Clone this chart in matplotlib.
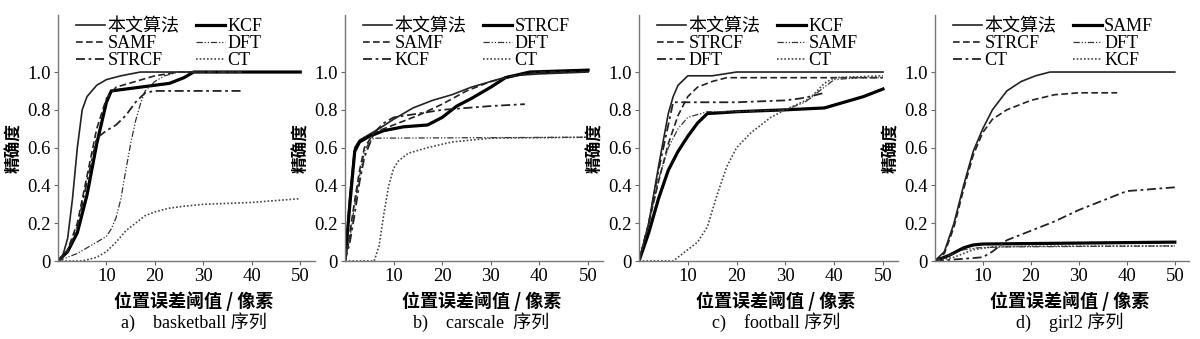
import matplotlib
matplotlib.use("Agg")
import matplotlib.pyplot as plt

plt.rcParams['font.family'] = ['Liberation Serif', 'Noto Sans CJK SC', 'DejaVu Sans']
plt.rcParams['font.size'] = 13

# ---- a) basketball ----
a_labels = ['本文算法', 'KCF', 'SAMF', 'DFT', 'STRCF', 'CT']
a_ours_x = [0, 1, 2, 3, 4, 5, 6, 7, 8, 10, 13, 17, 20, 50]
a_ours_y = [0, 0.03, 0.12, 0.33, 0.6, 0.8, 0.87, 0.9, 0.93, 0.96, 0.98, 1.0, 1.0, 1.0]
a_kcf_x = [0, 2, 4, 6, 8, 10, 11, 14, 17, 20, 23, 26, 28, 50]
a_kcf_y = [0, 0.05, 0.15, 0.35, 0.62, 0.84, 0.9, 0.91, 0.92, 0.93, 0.94, 0.97, 1.0, 1.0]
a_samf_x = [0, 2, 4, 6, 8, 10, 12, 16, 20, 25, 38]
a_samf_y = [0, 0.06, 0.2, 0.45, 0.7, 0.86, 0.92, 0.95, 0.98, 1.0, 1.0]
a_dft_x = [0, 2, 4, 6, 8, 10, 11, 12, 13, 14, 15, 16, 17, 18, 20, 22, 25, 38]
a_dft_y = [0, 0.02, 0.04, 0.07, 0.1, 0.13, 0.17, 0.23, 0.33, 0.48, 0.62, 0.74, 0.83, 0.9, 0.95, 0.98, 1.0, 1.0]
a_strcf_x = [0, 2, 4, 6, 8, 10, 12, 14, 16, 18, 20, 38]
a_strcf_y = [0, 0.05, 0.18, 0.42, 0.65, 0.69, 0.72, 0.77, 0.84, 0.89, 0.9, 0.9]
a_ct_x = [0, 5, 8, 10, 12, 14, 16, 18, 20, 23, 26, 30, 40, 50]
a_ct_y = [0, 0.0, 0.02, 0.05, 0.1, 0.16, 0.2, 0.24, 0.26, 0.28, 0.29, 0.3, 0.31, 0.33]

# ---- b) carscale ----
b_labels = ['本文算法', 'STRCF', 'SAMF', 'DFT', 'KCF', 'CT']
b_ours_x = [0, 1, 2, 3, 5, 7, 10, 12, 14, 16, 18, 22, 26, 30, 34, 40, 50]
b_ours_y = [0, 0.35, 0.6, 0.64, 0.67, 0.7, 0.75, 0.78, 0.81, 0.83, 0.85, 0.88, 0.92, 0.95, 0.98, 0.99, 1.0]
b_strcf_x = [0, 1, 2, 3, 5, 8, 12, 17, 20, 23, 26, 30, 33, 38, 50]
b_strcf_y = [0, 0.3, 0.58, 0.63, 0.66, 0.69, 0.71, 0.72, 0.76, 0.82, 0.86, 0.92, 0.97, 1.0, 1.01]
b_samf_x = [0, 1, 2, 3, 4, 6, 10, 15, 20, 25, 30, 35, 40, 50]
b_samf_y = [0, 0.15, 0.32, 0.48, 0.6, 0.68, 0.72, 0.77, 0.83, 0.9, 0.95, 0.98, 1.0, 1.0]
b_dft_x = [0, 1, 2, 3, 4, 5, 6, 50]
b_dft_y = [0, 0.12, 0.3, 0.45, 0.58, 0.63, 0.65, 0.655]
b_kcf_x = [0, 1, 2, 3, 4, 6, 8, 10, 15, 20, 25, 30, 37]
b_kcf_y = [0, 0.1, 0.25, 0.42, 0.55, 0.68, 0.73, 0.76, 0.78, 0.8, 0.81, 0.82, 0.83]
b_ct_x = [0, 6, 7, 8, 9, 10, 11, 13, 17, 22, 30, 50]
b_ct_y = [0, 0.0, 0.08, 0.25, 0.4, 0.49, 0.53, 0.57, 0.6, 0.63, 0.65, 0.655]

# ---- c) football ----
c_labels = ['本文算法', 'KCF', 'STRCF', 'SAMF', 'DFT', 'CT']
c_ours_x = [0, 2, 4, 6, 7, 8, 10, 15, 20, 50]
c_ours_y = [0, 0.2, 0.5, 0.78, 0.87, 0.93, 0.98, 0.98, 1.0, 1.0]
c_kcf_x = [0, 2, 4, 6, 8, 10, 12, 14, 20, 30, 38, 42, 46, 50]
c_kcf_y = [0, 0.15, 0.33, 0.48, 0.58, 0.66, 0.73, 0.78, 0.79, 0.8, 0.81, 0.84, 0.87, 0.91]
c_strcf_x = [0, 2, 4, 6, 8, 10, 12, 15, 18, 50]
c_strcf_y = [0, 0.2, 0.42, 0.62, 0.77, 0.87, 0.92, 0.95, 0.97, 0.97]
c_samf_x = [0, 2, 4, 6, 8, 10, 14, 20, 30, 34, 37, 40, 45, 50]
c_samf_y = [0, 0.2, 0.43, 0.6, 0.7, 0.76, 0.79, 0.79, 0.8, 0.84, 0.9, 0.96, 0.97, 0.97]
c_dft_x = [0, 2, 4, 6, 7, 10, 15, 20, 25, 30, 33, 35, 38]
c_dft_y = [0, 0.2, 0.48, 0.72, 0.84, 0.84, 0.84, 0.84, 0.845, 0.85, 0.86, 0.87, 0.89]
c_ct_x = [0, 7, 8, 10, 12, 14, 16, 18, 20, 23, 27, 30, 35, 38, 40, 50]
c_ct_y = [0, 0, 0.02, 0.06, 0.1, 0.18, 0.35, 0.5, 0.6, 0.68, 0.76, 0.8, 0.86, 0.94, 0.97, 0.98]

# ---- d) girl2 ----
d_labels = ['本文算法', 'SAMF', 'STRCF', 'DFT', 'CT', 'KCF']
d_ours_x = [0, 2, 4, 6, 8, 10, 12, 15, 18, 21, 24, 50]
d_ours_y = [0, 0.05, 0.2, 0.4, 0.58, 0.7, 0.8, 0.9, 0.95, 0.98, 1.0, 1.0]
d_samf_x = [0, 3, 6, 8, 10, 50]
d_samf_y = [0, 0.03, 0.07, 0.085, 0.09, 0.1]
d_strcf_x = [0, 2, 4, 6, 8, 10, 12, 15, 20, 25, 30, 38]
d_strcf_y = [0, 0.04, 0.18, 0.38, 0.56, 0.68, 0.75, 0.8, 0.85, 0.88, 0.89, 0.89]
d_dft_x = [0, 3, 6, 9, 15, 50]
d_dft_y = [0, 0.03, 0.06, 0.07, 0.075, 0.08]
d_ct_x = [0, 5, 10, 12, 15, 20, 25, 30, 35, 40, 45, 50]
d_ct_y = [0, 0.01, 0.02, 0.05, 0.11, 0.16, 0.21, 0.27, 0.32, 0.37, 0.38, 0.39]
d_kcf_x = [0, 4, 8, 12, 20, 50]
d_kcf_y = [0, 0.02, 0.06, 0.075, 0.078, 0.08]

captions = ['a)    basketball 序列', 'b)    carscale  序列', 'c)    football 序列', 'd)    girl2 序列']

# line style by legend slot (row-major)
styles = [
    dict(color='#222222', lw=1.2, ls='-'),
    dict(color='black', lw=2.3, ls='-'),
    dict(color='#222222', lw=1.2, ls=(0, (4, 2))),
    dict(color='#333333', lw=0.9, ls=(0, (5, 1.5, 1, 1.5, 1, 1.5))),
    dict(color='#222222', lw=1.3, ls=(0, (5, 2, 1.5, 2))),
    dict(color='#444444', lw=1.2, ls=(0, (1, 1.2))),
]

panels = [
    (a_labels, [(a_ours_x, a_ours_y), (a_kcf_x, a_kcf_y), (a_samf_x, a_samf_y),
                (a_dft_x, a_dft_y), (a_strcf_x, a_strcf_y), (a_ct_x, a_ct_y)]),
    (b_labels, [(b_ours_x, b_ours_y), (b_strcf_x, b_strcf_y), (b_samf_x, b_samf_y),
                (b_dft_x, b_dft_y), (b_kcf_x, b_kcf_y), (b_ct_x, b_ct_y)]),
    (c_labels, [(c_ours_x, c_ours_y), (c_kcf_x, c_kcf_y), (c_strcf_x, c_strcf_y),
                (c_samf_x, c_samf_y), (c_dft_x, c_dft_y), (c_ct_x, c_ct_y)]),
    (d_labels, [(d_ours_x, d_ours_y), (d_samf_x, d_samf_y), (d_strcf_x, d_strcf_y),
                (d_dft_x, d_dft_y), (d_ct_x, d_ct_y), (d_kcf_x, d_kcf_y)]),
]

lefts = [0.0483, 0.2875, 0.5325, 0.779]
widths = [0.214, 0.2147, 0.2155, 0.212]

fig = plt.figure(figsize=(12, 3.39), dpi=100)

for i, (labels, curves) in enumerate(panels):
    ax = fig.add_axes([lefts[i], 0.230, widths[i], 0.7248])
    handles = []
    for j, (x, y) in enumerate(curves):
        h, = ax.plot(x, y, label=labels[j], **styles[j])
        handles.append(h)

    ax.set_xlim(0, 53)
    ax.set_ylim(0, 1.3)
    ax.set_xticks([10, 20, 30, 40, 50])
    ax.set_yticks([0, 0.2, 0.4, 0.6, 0.8, 1.0])
    ax.set_yticklabels(['0', '0.2', '0.4', '0.6', '0.8', '1.0'])
    ax.tick_params(length=3, width=0.8, color='#666666', labelsize=13.5, pad=2)
    for s in ['top', 'right']:
        ax.spines[s].set_visible(False)
    for s in ['left', 'bottom']:
        ax.spines[s].set_color('#777777')
        ax.spines[s].set_linewidth(1.0)

    ax.set_ylabel('精确度', fontsize=12, family=['Noto Sans CJK SC'], fontweight='bold')
    ax.yaxis.set_label_coords(-0.136, 0.46)
    ax.text(0.53, -0.165, '位置误差阈值 / 像素', transform=ax.transAxes, ha='center', va='center',
            fontsize=13, family=['Noto Sans CJK SC'], fontweight='bold')
    ax.text(0.53, -0.248, captions[i], transform=ax.transAxes, ha='center', va='center',
            fontsize=13, family=['Liberation Serif', 'Noto Sans CJK SC'])

    order = [0, 2, 4, 1, 3, 5]
    ax.legend([handles[k] for k in order], [labels[k] for k in order], ncol=2,
              loc='upper left', bbox_to_anchor=(0.06, 1.0), frameon=False,
              handlelength=1.6, handletextpad=0.15, labelspacing=0.0,
              columnspacing=0.9, borderpad=0.0, borderaxespad=0.15, fontsize=13)

fig.savefig('out.png', dpi=100)
